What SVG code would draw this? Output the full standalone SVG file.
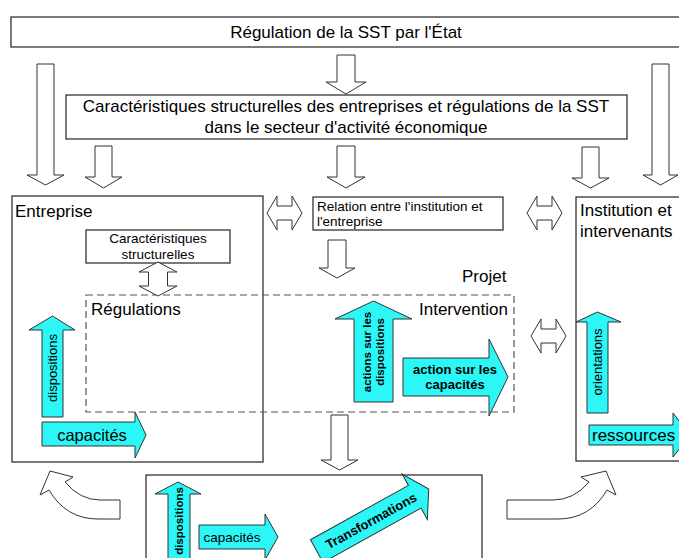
<svg xmlns="http://www.w3.org/2000/svg" width="679" height="558" viewBox="0 0 679 558">
<style>
text{font-family:"Liberation Sans",Arial,sans-serif;fill:#000}
.box{fill:#fff;stroke:#333;stroke-width:1.3}
.ba{fill:#fff;stroke:#333;stroke-width:1}
.cy{fill:#2cf6f6;stroke:#333;stroke-width:1}
.dash{fill:none;stroke:#555;stroke-width:1.2;stroke-dasharray:7 4}
.t17{font-size:17px}
.t13{font-size:13px}
.b{font-weight:bold}
.m{text-anchor:middle}
</style>
<rect width="679" height="558" fill="#fff"/>

<g id="etat">
<rect class="box" x="11" y="17" width="672" height="30"/>
<text class="t17 m" x="346" y="38">Régulation de la SST par l'État</text>
</g>

<g id="secteur">
<rect class="box" x="66" y="95" width="561" height="44"/>
<text class="t17 m" x="346" y="112">Caractéristiques structurelles des entreprises et régulations de la SST</text>
<text class="t17 m" x="346" y="133">dans le secteur d'activité économique</text>
</g>

<g id="entreprise">
<rect class="box" x="12" y="196" width="251" height="266"/>
<text class="t17" x="15" y="217">Entreprise</text>
</g>

<g id="carac">
<rect class="box" x="86" y="230" width="144" height="33"/>
<text class="m" style="font-size:13.5px" x="158" y="243">Caractéristiques</text>
<text class="m" style="font-size:13.5px" x="158" y="259">structurelles</text>
</g>

<g id="relation">
<rect class="box" x="313" y="197" width="190" height="33"/>
<text style="font-size:13.5px" x="317" y="211">Relation entre l'institution et</text>
<text style="font-size:13.5px" x="317" y="226">l'entreprise</text>
</g>

<g id="institution">
<rect class="box" x="576" y="197" width="110" height="264"/>
<text class="t17" x="580" y="216">Institution et</text>
<text class="t17" x="580" y="237">intervenants</text>
</g>

<g id="projet">
<text class="t17" x="462" y="282">Projet</text>
<rect class="dash" x="86" y="295" width="428" height="117"/>
<text class="t17" x="91" y="315">Régulations</text>
<text class="t17" x="419" y="315">Intervention</text>
</g>

<g id="transformations-box">
<rect class="box" x="146" y="475" width="336" height="100"/>
</g>

<g id="connectors">
<path class="ba" d="M337,55 H355 V82 H366 L346,94 L326,82 H337 Z"/>
<path class="ba" d="M37,64 H54 V175 H64 L45.5,185 L27,175 H37 Z"/>
<path class="ba" d="M652,64 H669 V175 H678 L660.5,185 L643,175 H652 Z"/>
<path class="ba" d="M95,146 H112 V177 H122 L103.5,188 L85,177 H95 Z"/>
<path class="ba" d="M337,146 H355 V177 H365 L346,188 L327,177 H337 Z"/>
<path class="ba" d="M582,147 H599 V178 H609 L590.5,188 L572,178 H582 Z"/>
<path class="ba" d="M328,240 H346 V268 H355 L337,278 L319,268 H328 Z"/>
<path class="ba" d="M331,415 H348 V460 H358 L339.5,470 L321,460 H331 Z"/>
<path class="ba" d="M267,213 L277,196 V206 H292 V196 L302,213 L292,230 V220 H277 V230 Z"/>
<path class="ba" d="M527,213 L537,196 V206 H552 V196 L562,213 L552,230 V220 H537 V230 Z"/>
<path class="ba" d="M531,336 L541,319 V329 H556 V319 L566,336 L556,353 V343 H541 V353 Z"/>
<path class="ba" d="M158,262 L177,272 H167.5 V286 H177 L158,296 L139,286 H148.5 V272 H139 Z"/>
<path class="ba" d="M507,500 H553 Q574,500 589,482 L581,477 L606,471 L616,495 L607,490 Q590,519 558,519 H507 Z"/>
<path class="ba" d="M120,500 H100 Q80,500 65,482 L73,477 L50,471 L40,495 L49,490 Q66,519 98,519 H120 Z"/>
</g>

<g id="fleches-entreprise">
<path class="cy" d="M42,417 V330 H29 L52.5,316 L75,330 H63 V417 Z"/>
<text class="t13 m" transform="translate(57,368) rotate(-90)">dispositions</text>
<path class="cy" d="M42,422 H135 V412 L146,435 L135,458 V446 H42 Z"/>
<text class="m" style="font-size:16.5px" x="92" y="441">capacités</text>
</g>

<g id="fleches-intervention">
<path class="cy" d="M354,402 V319 H335 L373.5,301 L412,319 H393 V402 Z"/>
<text class="b m" style="font-size:11.5px" transform="translate(371,352) rotate(-90)">actions sur les</text>
<text class="b m" style="font-size:11.5px" transform="translate(384,352) rotate(-90)">dispositions</text>
<path class="cy" d="M403,358 H489 V339 L508,377 L489,416 V396 H403 Z"/>
<text class="b m" style="font-size:13px" x="455" y="374">action sur les</text>
<text class="b m" style="font-size:13px" x="455" y="389">capacités</text>
</g>

<g id="fleches-institution">
<path class="cy" d="M587,413 V322 H576 L597.5,312 L621,322 H608 V413 Z"/>
<text class="t13 m" transform="translate(602,362) rotate(-90)">orientations</text>
<path class="cy" d="M589,425 H673 V413 L690,435 L673,457 V445 H589 Z"/>
<text class="t17" x="592" y="441">ressources</text>
</g>

<g id="fleches-transformations">
<path class="cy" d="M168,570 V494 H155 L178,482 L201,494 H190 V570 Z"/>
<text class="b m" style="font-size:11.5px" transform="translate(183,521) rotate(-90)">dispositions</text>
<path class="cy" d="M199,525 H265 V514 L278,537 L265,560 V549 H199 Z"/>
<text class="m" style="font-size:13.5px" x="232" y="542">capacités</text>
<g transform="translate(371,521) rotate(-29)">
<path class="cy" d="M-62,-13 H50 V-26 L66,0 L50,26 V13 H-62 Z"/>
<text class="b m" style="font-size:13px" x="0" y="4.5">Transformations</text>
</g>
</g>
</svg>
